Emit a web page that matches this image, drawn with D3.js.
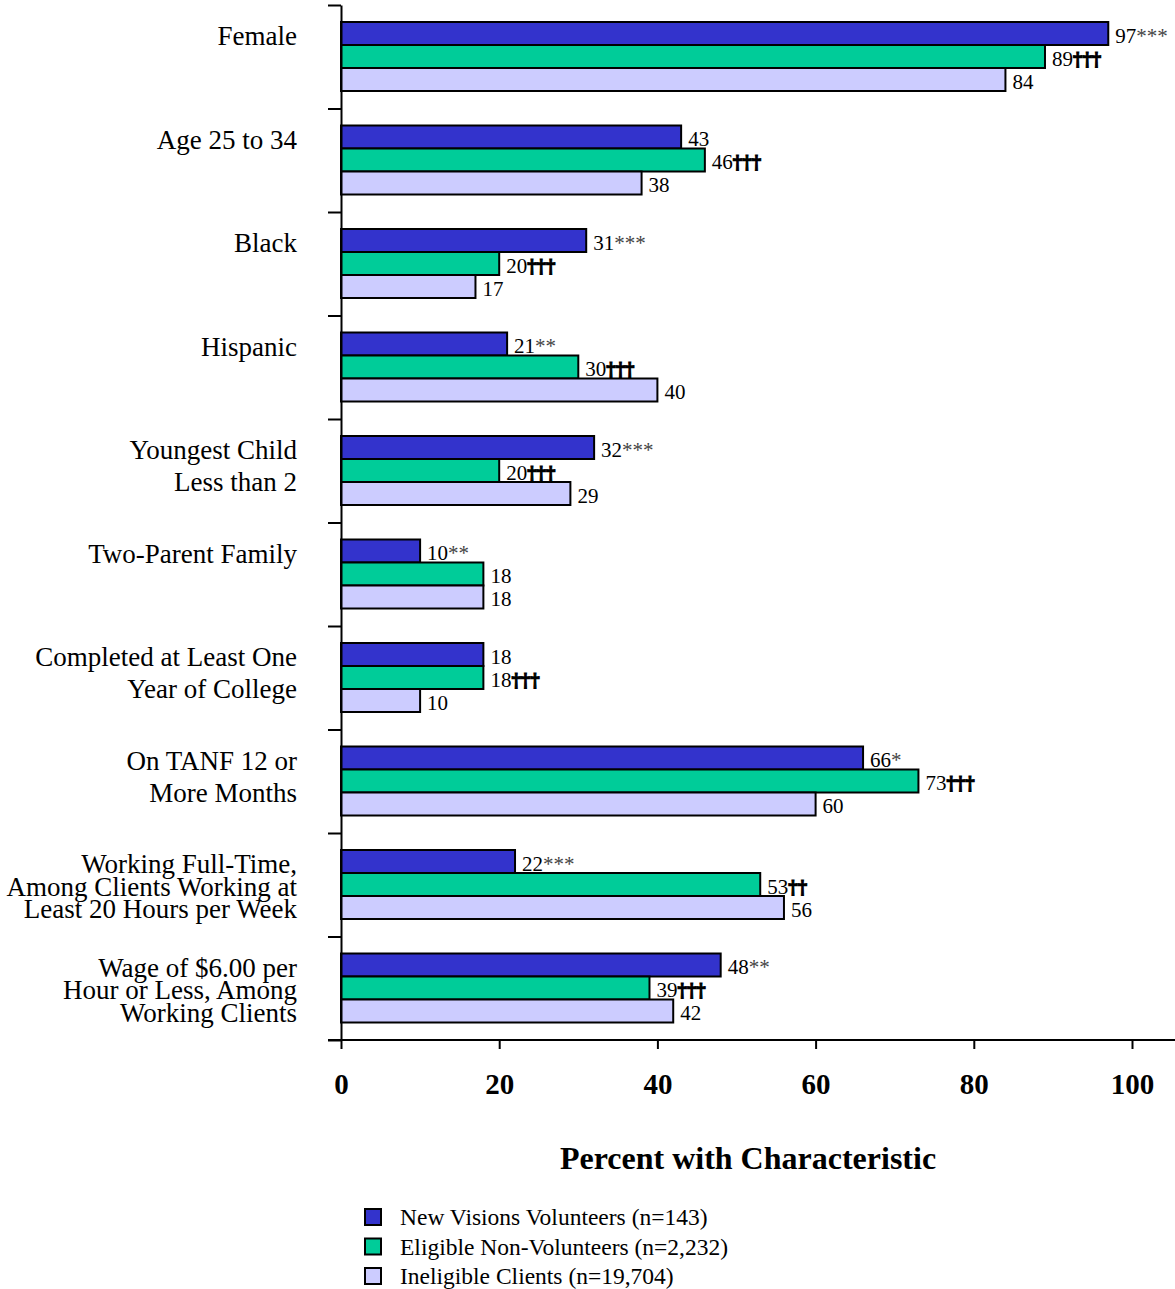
<!DOCTYPE html>
<html>
<head>
<meta charset="utf-8">
<script src="https://cdn.jsdelivr.net/npm/d3@7"></script>
<style>
  html, body { margin: 0; padding: 0; background: #fff; }
  svg { display: block; font-family: "Liberation Serif", "Times New Roman", serif; }
</style>
</head>
<body>
<svg id="chart" width="1175" height="1289"></svg>
<script>
// Characteristics of the three client groups (percent)
const categories = [
  ["Female"],
  ["Age 25 to 34"],
  ["Black"],
  ["Hispanic"],
  ["Youngest Child", "Less than 2"],
  ["Two-Parent Family"],
  ["Completed at Least One", "Year of College"],
  ["On TANF 12 or", "More Months"],
  ["Working Full-Time,", "Among Clients Working at", "Least 20 Hours per Week"],
  ["Wage of $6.00 per", "Hour or Less, Among", "Working Clients"]
];
const volunteers      = [97, 43, 31, 21, 32, 10, 18, 66, 22, 48];
const volunteerMarks  = ["***", "", "***", "**", "***", "**", "", "*", "***", "**"];
const eligible        = [89, 46, 20, 30, 20, 18, 18, 73, 53, 39];
const eligibleMarks   = ["†††", "†††", "†††", "†††", "†††", "", "†††", "†††", "††", "†††"];
const ineligible      = [84, 38, 17, 40, 29, 18, 10, 60, 56, 42];
const ineligibleMarks = ["", "", "", "", "", "", "", "", "", ""];
const seriesNames = [
  "New Visions Volunteers (n=143)",
  "Eligible Non-Volunteers (n=2,232)",
  "Ineligible Clients (n=19,704)"
];
const seriesColors = ["#3333cc", "#00cc99", "#ccccff"];
const xTicks = [0, 20, 40, 60, 80, 100];
const axisTitle = "Percent with Characteristic";

const series = [
  { values: volunteers, marks: volunteerMarks, dagger: false },
  { values: eligible, marks: eligibleMarks, dagger: true },
  { values: ineligible, marks: ineligibleMarks, dagger: false }
];

const svg = d3.select("#chart");

const x = d3.scaleLinear().domain([0, 100]).range([341, 1132]);
const y = d3.scaleBand().domain(d3.range(categories.length)).range([5, 1040]);
const yEdge = d3.scaleLinear().domain([0, categories.length]).range([5, 1040]);
const inner = d3.scaleBand().domain(d3.range(series.length))
  .range([17, 17 + 23 * series.length]);

// bars
const groups = svg.append("g").selectAll("g")
  .data(categories)
  .join("g")
  .attr("transform", (d, i) => `translate(0,${y(i)})`);

series.forEach((s, si) => {
  groups.append("rect")
    .attr("x", x(0))
    .attr("y", inner(si))
    .attr("width", (d, i) => x(s.values[i]) - x(0))
    .attr("height", inner.bandwidth())
    .attr("fill", seriesColors[si])
    .attr("stroke", "#000")
    .attr("stroke-width", 2);

  const lbl = groups.append("text")
    .attr("x", (d, i) => x(s.values[i]) + 7)
    .attr("y", inner(si) + inner.bandwidth() / 2 + 9)
    .attr("font-size", 21)
    .attr("fill", "#000");
  lbl.append("tspan").text((d, i) => s.values[i]);
  const mark = lbl.append("tspan").text((d, i) => s.marks[i]);
  if (s.dagger) {
    // heavy daggers: bold face plus a thin outline
    mark.attr("font-family", "DejaVu Serif, serif")
      .attr("font-weight", "bold")
      .attr("font-size", 18)
      .attr("fill", "#000")
      .attr("stroke", "#000")
      .attr("stroke-width", 1.1);
  } else {
    mark.attr("fill", "#444");
  }
});

// category labels
groups.each(function(lines) {
  const g = d3.select(this);
  const spacing = lines.length > 2 ? 22.5 : 32;
  lines.forEach((line, li) => {
    g.append("text")
      .attr("x", 297)
      .attr("y", 31 + li * spacing)
      .attr("dy", "0.35em")
      .attr("text-anchor", "end")
      .attr("font-size", 27)
      .attr("fill", "#000")
      .text(line);
  });
});

// left axis with ticks at category boundaries
const yAxis = d3.axisLeft(yEdge)
  .tickValues(d3.range(categories.length + 1))
  .tickSize(13)
  .tickSizeOuter(0)
  .tickFormat("");
const yg = svg.append("g").attr("transform", `translate(${x(0)},0)`).call(yAxis);
yg.selectAll("path, line").attr("stroke", "#000").attr("stroke-width", 2);

// bottom axis
const xAxis = d3.axisBottom(x).tickValues(xTicks).tickSize(9).tickSizeOuter(0).tickFormat(d3.format("d"));
const xg = svg.append("g").attr("transform", `translate(0,1040)`).call(xAxis);
xg.select(".domain").remove();
xg.selectAll("line").attr("stroke", "#000").attr("stroke-width", 2);
xg.selectAll("text")
  .attr("y", 54)
  .attr("dy", 0)
  .attr("font-family", "Liberation Serif, Times New Roman, serif")
  .attr("font-size", 29)
  .attr("font-weight", "bold")
  .attr("fill", "#000");
svg.append("line")
  .attr("x1", 328).attr("x2", 1175)
  .attr("y1", 1040).attr("y2", 1040)
  .attr("stroke", "#000").attr("stroke-width", 2);

// axis title
svg.append("text")
  .attr("x", 748)
  .attr("y", 1169)
  .attr("text-anchor", "middle")
  .attr("font-size", 32)
  .attr("font-weight", "bold")
  .attr("fill", "#000")
  .text(axisTitle);

// legend
const legend = svg.append("g").attr("transform", "translate(365,1209)");
const rows = legend.selectAll("g").data(seriesNames).join("g")
  .attr("transform", (d, i) => `translate(0,${i * 29.5})`);
rows.append("rect")
  .attr("width", 16).attr("height", 16)
  .attr("fill", (d, i) => seriesColors[i])
  .attr("stroke", "#000").attr("stroke-width", 2);
rows.append("text")
  .attr("x", 35).attr("y", 16)
  .attr("font-size", 23.5)
  .attr("fill", "#000")
  .text(d => d);
</script>
</body>
</html>
